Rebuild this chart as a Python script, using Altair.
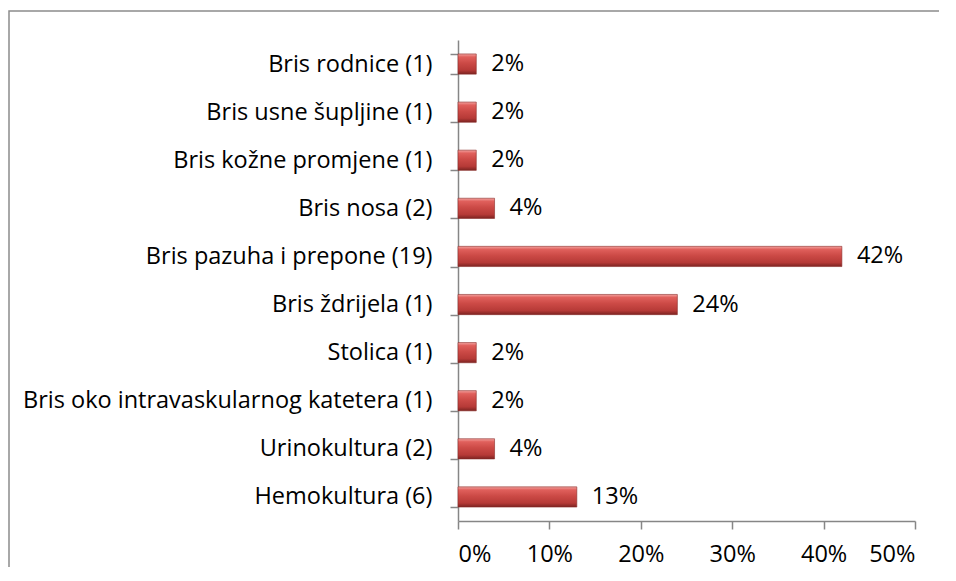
import altair as alt
import pandas as pd

categories = [
    "Bris rodnice (1)",
    "Bris usne šupljine (1)",
    "Bris kožne promjene (1)",
    "Bris nosa (2)",
    "Bris pazuha i prepone (19)",
    "Bris ždrijela (1)",
    "Stolica (1)",
    "Bris oko intravaskularnog katetera (1)",
    "Urinokultura (2)",
    "Hemokultura (6)",
]
values = [2, 2, 2, 4, 42, 24, 2, 2, 4, 13]
tick_values = [0, 0.1, 0.2, 0.3, 0.4, 0.5]

df = pd.DataFrame({
    "cat": categories,
    "val": [v / 100 for v in values],
    "lab": [f"{v}%" for v in values],
})

FONT = "Open Sans"
FS = 23.5

gradient = alt.Gradient(
    gradient="linear",
    x1=0, x2=0, y1=0, y2=1,
    stops=[
        alt.GradientStop(offset=0.0, color="#f3a3a0"),
        alt.GradientStop(offset=0.15, color="#e0605c"),
        alt.GradientStop(offset=0.45, color="#cc4a46"),
        alt.GradientStop(offset=0.8, color="#b63a37"),
        alt.GradientStop(offset=1.0, color="#7c2321"),
    ],
)

y_enc = alt.Y(
    "cat:N",
    sort=categories,
    title=None,
    scale=alt.Scale(paddingInner=0.58, paddingOuter=0.29),
    axis=alt.Axis(
        tickBand="extent",
        tickSize=8,
        tickColor="#868686",
        domainColor="#868686",
        domainWidth=1.5,
        tickWidth=1.5,
        labelFont=FONT,
        labelFontSize=FS,
        labelColor="#000000",
        labelPadding=18,
        labelLimit=600,
        grid=False,
    ),
)
x_enc = alt.X(
    "val:Q",
    title=None,
    scale=alt.Scale(domain=[0, 0.5], nice=False),
    axis=alt.Axis(
        values=tick_values,
        format=".0%",
        tickSize=8,
        tickColor="#868686",
        domainColor="#868686",
        domainWidth=1.5,
        tickWidth=1.5,
        labelFont=FONT,
        labelFontSize=FS,
        labelColor="#000000",
        labelPadding=13,
        grid=False,
    ),
)

bars = alt.Chart(df).mark_bar(
    fill=gradient, stroke="#8a2b29", strokeWidth=0.6
).encode(x=x_enc, y=y_enc)

labels = alt.Chart(df).mark_text(
    align="left", baseline="middle", dx=15, font=FONT, fontSize=FS, color="#000000"
).encode(x="val:Q", y=alt.Y("cat:N", sort=categories), text="lab:N")

border = alt.Chart(alt.Data(values=[{}])).mark_rect(
    fill="transparent", stroke="#8c8c8c", strokeWidth=1.5
).encode(
    x=alt.value(-449), x2=alt.value(560),
    y=alt.value(-29), y2=alt.value(600),
)

chart = alt.layer(border, bars, labels).properties(
    width=457,
    height=481,
    autosize=alt.AutoSizeParams(type="none"),
    padding={"left": 450, "top": 32, "right": 24, "bottom": 46},
).configure(background="white").configure_view(stroke=None)

chart.save("out.html", embed_options={"renderer": "svg", "actions": False})
